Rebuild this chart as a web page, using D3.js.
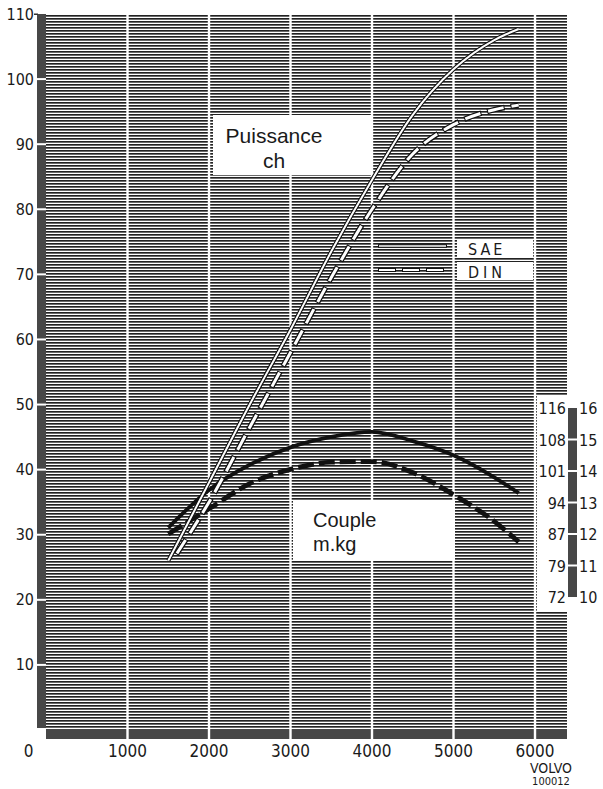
<!DOCTYPE html>
<html>
<head>
<meta charset="utf-8">
<script src="https://cdn.jsdelivr.net/npm/d3@7"></script>
<style>
  body { margin: 0; background: #fff; }
  text { font-family: "Liberation Sans Narrow", "DejaVu Sans Condensed", sans-serif; fill: #1a1a1a; }
</style>
</head>
<body>
<script>
// values
const rpmTicks = [0, 1000, 2000, 3000, 4000, 5000, 6000]
const hpTicks = [10, 20, 30, 40, 50, 60, 70, 80, 90, 100, 110]
const kgmTicks = [10, 11, 12, 13, 14, 15, 16]
const lbftLabels = [72, 79, 87, 94, 101, 108, 116]

const rpmSae = [1500, 2000, 2500, 3000, 3500, 4000, 4500, 5000, 5500, 5800]
const powerSae = [26, 38, 50, 61.5, 73.5, 84.5, 94.5, 101.5, 106, 107.7]
const rpmDin = [1600, 2000, 2500, 3000, 3500, 4000, 4500, 5000, 5500, 5800]
const powerDin = [27, 35, 46.5, 58, 69.5, 80, 88.5, 93, 95.3, 96]
const rpmTorque = [1500, 2000, 2500, 3000, 3500, 4000, 4500, 5000, 5500, 5800]
const torqueSae = [12.2, 13.4, 14.2, 14.75, 15.08, 15.24, 14.95, 14.5, 13.8, 13.3]
const torqueDin = [12.0, 12.8, 13.6, 14.05, 14.28, 14.3, 13.95, 13.25, 12.4, 11.75]

const width = 603
const height = 789

const x = d3.scaleLinear().domain([0, 6000]).range([46, 535])
const y = d3.scaleLinear().domain([0, 110]).range([730, 14])
const yT = d3.scaleLinear().domain([10, 16]).range([597, 408])

const plotRight = 567
const plotBottom = 728

let svg = d3.select('body')
  .append('svg')
  .attr('width', width)
  .attr('height', height)

// horizontal line hatching, like the printed screen
let defs = svg.append('defs')
let pat = defs.append('pattern')
  .attr('id', 'hatch')
  .attr('patternUnits', 'userSpaceOnUse')
  .attr('width', 8)
  .attr('height', 3)
pat.append('rect').attr('width', 8).attr('height', 3).attr('fill', '#fff')
pat.append('rect').attr('width', 8).attr('height', 1).attr('fill', '#222')
pat.append('rect').attr('y', 1).attr('width', 8).attr('height', 1).attr('fill', '#6a6a6a')

svg.append('rect')
  .attr('x', x(0))
  .attr('y', y(110))
  .attr('width', plotRight - x(0))
  .attr('height', plotBottom - y(110))
  .attr('fill', 'url(#hatch)')

// left bar
svg.append('rect')
  .attr('x', 37)
  .attr('y', y(110))
  .attr('width', x(0) - 37)
  .attr('height', plotBottom - y(110))
  .attr('fill', '#474747')

// bottom bar
svg.append('rect')
  .attr('x', x(0))
  .attr('y', plotBottom + 1)
  .attr('width', plotRight - x(0))
  .attr('height', 10)
  .attr('fill', '#474747')

// white vertical grid
svg.selectAll('.vgrid')
  .data(rpmTicks.slice(1))
  .enter()
  .append('rect')
  .attr('class', 'vgrid')
  .attr('x', d => x(d) - 1.2)
  .attr('y', y(110))
  .attr('width', 2.4)
  .attr('height', plotBottom + 11 - y(110))
  .attr('fill', '#fff')

// notches on left bar
svg.selectAll('.notch')
  .data(hpTicks.slice(0, -1))
  .enter()
  .append('rect')
  .attr('class', 'notch')
  .attr('x', 35)
  .attr('y', d => y(d) - 1)
  .attr('width', x(0) - 35)
  .attr('height', 2)
  .attr('fill', '#fff')

svg.append('rect')
  .attr('x', 34).attr('y', y(110) - 0.5)
  .attr('width', 4).attr('height', 1.5)
  .attr('fill', '#333')

// hp labels
svg.selectAll('.hpLabel')
  .data(hpTicks)
  .enter()
  .append('text')
  .attr('x', 34)
  .attr('y', d => y(d) + 5.5)
  .attr('text-anchor', 'end')
  .style('font-size', '16px')
  .text(d => d)

// rpm labels
svg.selectAll('.rpmLabel')
  .data(rpmTicks)
  .enter()
  .append('text')
  .attr('x', d => d === 0 ? 28.5 : x(d))
  .attr('y', 757)
  .attr('text-anchor', 'middle')
  .style('font-size', '17px')
  .text(d => d)

// white boxes
svg.append('rect')
  .attr('x', 213).attr('y', 115)
  .attr('width', 159).attr('height', 60)
  .attr('fill', '#fff')
svg.append('rect')
  .attr('x', 293).attr('y', 500)
  .attr('width', 162).attr('height', 60)
  .attr('fill', '#fff')
svg.append('rect')
  .attr('x', 537).attr('y', 396)
  .attr('width', plotRight - 537).attr('height', 215)
  .attr('fill', '#fff')
svg.append('rect')
  .attr('x', 457).attr('y', 240)
  .attr('width', 76).attr('height', 17)
  .attr('fill', '#fff')
svg.append('rect')
  .attr('x', 457).attr('y', 262)
  .attr('width', 76).attr('height', 18)
  .attr('fill', '#fff')

// torque scale bar
svg.append('rect')
  .attr('x', 568)
  .attr('y', yT(16))
  .attr('width', 9)
  .attr('height', yT(10) - yT(16))
  .attr('fill', '#474747')

svg.selectAll('.tnotch')
  .data(kgmTicks.slice(1, -1))
  .enter()
  .append('rect')
  .attr('x', 566)
  .attr('y', d => yT(d) - 1)
  .attr('width', 13)
  .attr('height', 2)
  .attr('fill', '#fff')

svg.selectAll('.kgmLabel')
  .data(kgmTicks)
  .enter()
  .append('text')
  .attr('x', 579)
  .attr('y', d => yT(d) + 6)
  .style('font-size', '16px')
  .text(d => d)

svg.selectAll('.lbLabel')
  .data(lbftLabels)
  .enter()
  .append('text')
  .attr('x', 566)
  .attr('y', (d, i) => yT(kgmTicks[i]) + 6)
  .attr('text-anchor', 'end')
  .style('font-size', '16px')
  .text(d => d)

// curves
const powerLine = d3.line()
  .x(d => x(d[0]))
  .y(d => y(d[1]))
  .curve(d3.curveMonotoneX)
const torqueLine = d3.line()
  .x(d => x(d[0]))
  .y(d => yT(d[1]))
  .curve(d3.curveMonotoneX)

const saeP = d3.zip(rpmSae, powerSae)
const dinP = d3.zip(rpmDin, powerDin)
const saeT = d3.zip(rpmTorque, torqueSae)
const dinT = d3.zip(rpmTorque, torqueDin)

svg.append('path')
  .attr('d', torqueLine(saeT))
  .attr('fill', 'none')
  .attr('stroke', '#111')
  .attr('stroke-width', 3.8)

svg.append('path')
  .attr('d', torqueLine(dinT))
  .attr('fill', 'none')
  .attr('stroke', '#111')
  .attr('stroke-width', 4.8)
  .attr('stroke-dasharray', '16,5')

svg.append('path')
  .attr('d', powerLine(dinP))
  .attr('fill', 'none')
  .attr('stroke', '#111')
  .attr('stroke-width', 5.5)
  .attr('stroke-dasharray', '18,6')
svg.append('path')
  .attr('d', powerLine(dinP))
  .attr('fill', 'none')
  .attr('stroke', '#fff')
  .attr('stroke-width', 3)
  .attr('stroke-dasharray', '16,8')
  .attr('stroke-dashoffset', -1)

svg.append('path')
  .attr('d', powerLine(saeP))
  .attr('fill', 'none')
  .attr('stroke', '#111')
  .attr('stroke-width', 4.2)
svg.append('path')
  .attr('d', powerLine(saeP))
  .attr('fill', 'none')
  .attr('stroke', '#fff')
  .attr('stroke-width', 2)

// legend samples
svg.append('line')
  .attr('x1', 378).attr('x2', 447).attr('y1', 246).attr('y2', 246)
  .attr('stroke', '#111').attr('stroke-width', 3.5)
svg.append('line')
  .attr('x1', 379).attr('x2', 446).attr('y1', 246).attr('y2', 246)
  .attr('stroke', '#fff').attr('stroke-width', 1.5)
svg.append('line')
  .attr('x1', 378).attr('x2', 447).attr('y1', 270).attr('y2', 270)
  .attr('stroke', '#111').attr('stroke-width', 4)
  .attr('stroke-dasharray', '18,6')
svg.append('line')
  .attr('x1', 378).attr('x2', 447).attr('y1', 270).attr('y2', 270)
  .attr('stroke', '#fff').attr('stroke-width', 2)
  .attr('stroke-dasharray', '16,8')
  .attr('stroke-dashoffset', -1)

// texts
const plain = '"Liberation Sans", Arial, sans-serif'
svg.append('text')
  .attr('x', 274).attr('y', 143)
  .attr('text-anchor', 'middle')
  .style('font-family', plain)
  .style('font-size', '21px')
  .text('Puissance')
svg.append('text')
  .attr('x', 274).attr('y', 168)
  .attr('text-anchor', 'middle')
  .style('font-family', plain)
  .style('font-size', '21px')
  .text('ch')
svg.append('text')
  .attr('x', 313).attr('y', 527)
  .style('font-family', plain)
  .style('font-size', '20px')
  .text('Couple')
svg.append('text')
  .attr('x', 313).attr('y', 551)
  .style('font-family', plain)
  .style('font-size', '20px')
  .text('m.kg')

svg.append('text')
  .attr('x', 468).attr('y', 255)
  .style('font-size', '16px')
  .style('letter-spacing', '3px')
  .text('SAE')
svg.append('text')
  .attr('x', 468).attr('y', 278)
  .style('font-size', '16px')
  .style('letter-spacing', '4px')
  .text('DIN')

svg.append('text')
  .attr('x', 551).attr('y', 773)
  .attr('text-anchor', 'middle')
  .style('font-size', '14px')
  .text('VOLVO')
svg.append('text')
  .attr('x', 551).attr('y', 785)
  .attr('text-anchor', 'middle')
  .style('font-size', '11px')
  .text('100012')
</script>
</body>
</html>
